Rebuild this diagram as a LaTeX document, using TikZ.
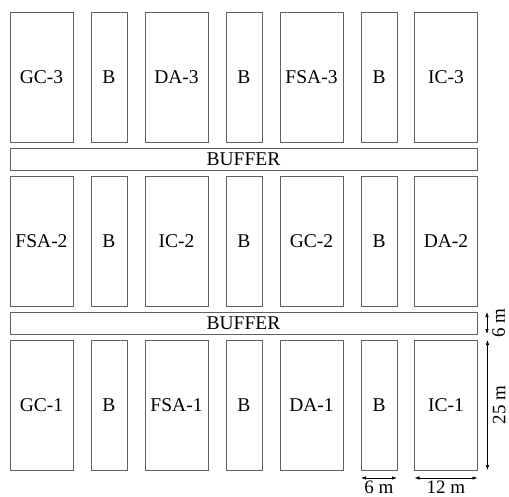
\documentclass[tikz,border=0pt]{standalone}
\usepackage{fontspec}
\setmainfont{Liberation Serif}
\usetikzlibrary{arrows.meta}
\begin{document}
\begin{tikzpicture}[x=1pt,y=-1pt,
  plot/.style={draw=black!62, line width=0.9pt, inner sep=0pt, outer sep=0pt,
    font=\fontsize{19.5}{21}\selectfont},
  big/.style={plot, minimum width=63pt, minimum height=130pt},
  small/.style={plot, minimum width=36pt, minimum height=130pt},
  buffer/.style={plot, minimum width=467pt, minimum height=22pt},
  dim/.style={{Latex[length=5pt,width=3.5pt]}-{Latex[length=5pt,width=3.5pt]}, line width=0.6pt, black},
  dimlabel/.style={inner sep=0pt, font=\fontsize{19}{20}\selectfont}]
\useasboundingbox (0,0) rectangle (509,497);
% top row
\node[big]   (GC3) at (41.5,77) {GC-3};
\node[small] (B3a) at (109,77) {B};
\node[big]   (DA3) at (176.5,77) {DA-3};
\node[small] (B3b) at (244,77) {B};
\node[big]   (FSA3) at (311.5,77) {FSA-3};
\node[small] (B3c) at (379,77) {B};
\node[big]   (IC3) at (446,77) {IC-3};
\node[buffer] (buf1) at (243.5,159) {BUFFER};
% middle row
\node[big]   (FSA2) at (41.5,241) {FSA-2};
\node[small] (B2a) at (109,241) {B};
\node[big]   (IC2) at (176.5,241) {IC-2};
\node[small] (B2b) at (244,241) {B};
\node[big]   (GC2) at (311.5,241) {GC-2};
\node[small] (B2c) at (379,241) {B};
\node[big]   (DA2) at (446,241) {DA-2};
\node[buffer] (buf2) at (243.5,323) {BUFFER};
% bottom row
\node[big]   (GC1) at (41.5,405) {GC-1};
\node[small] (B1a) at (109,405) {B};
\node[big]   (FSA1) at (176.5,405) {FSA-1};
\node[small] (B1b) at (244,405) {B};
\node[big]   (DA1) at (311.5,405) {DA-1};
\node[small] (B1c) at (379,405) {B};
\node[big]   (IC1) at (446,405) {IC-1};
% dimensions
\draw[dim] ([xshift=10pt]buf2.north east) -- ([xshift=10pt]buf2.south east);
\node[dimlabel, rotate=90, anchor=north] (d6v) at ([xshift=15pt]buf2.east) {6 m};
\draw[dim] ([xshift=10pt]IC1.north east) -- ([xshift=10pt]IC1.south east);
\node[dimlabel, rotate=90, anchor=north] (d25) at ([xshift=15pt]IC1.east) {25 m};
\draw[dim] ([yshift=-8pt]B1c.south west) -- ([yshift=-8pt]B1c.south east);
\node[dimlabel, anchor=north] (d6h) at ([yshift=-11pt]B1c.south) {6 m};
\draw[dim] ([yshift=-8pt]IC1.south west) -- ([yshift=-8pt]IC1.south east);
\node[dimlabel, anchor=north] (d12) at ([yshift=-11pt]IC1.south) {12 m};
\end{tikzpicture}
\end{document}
